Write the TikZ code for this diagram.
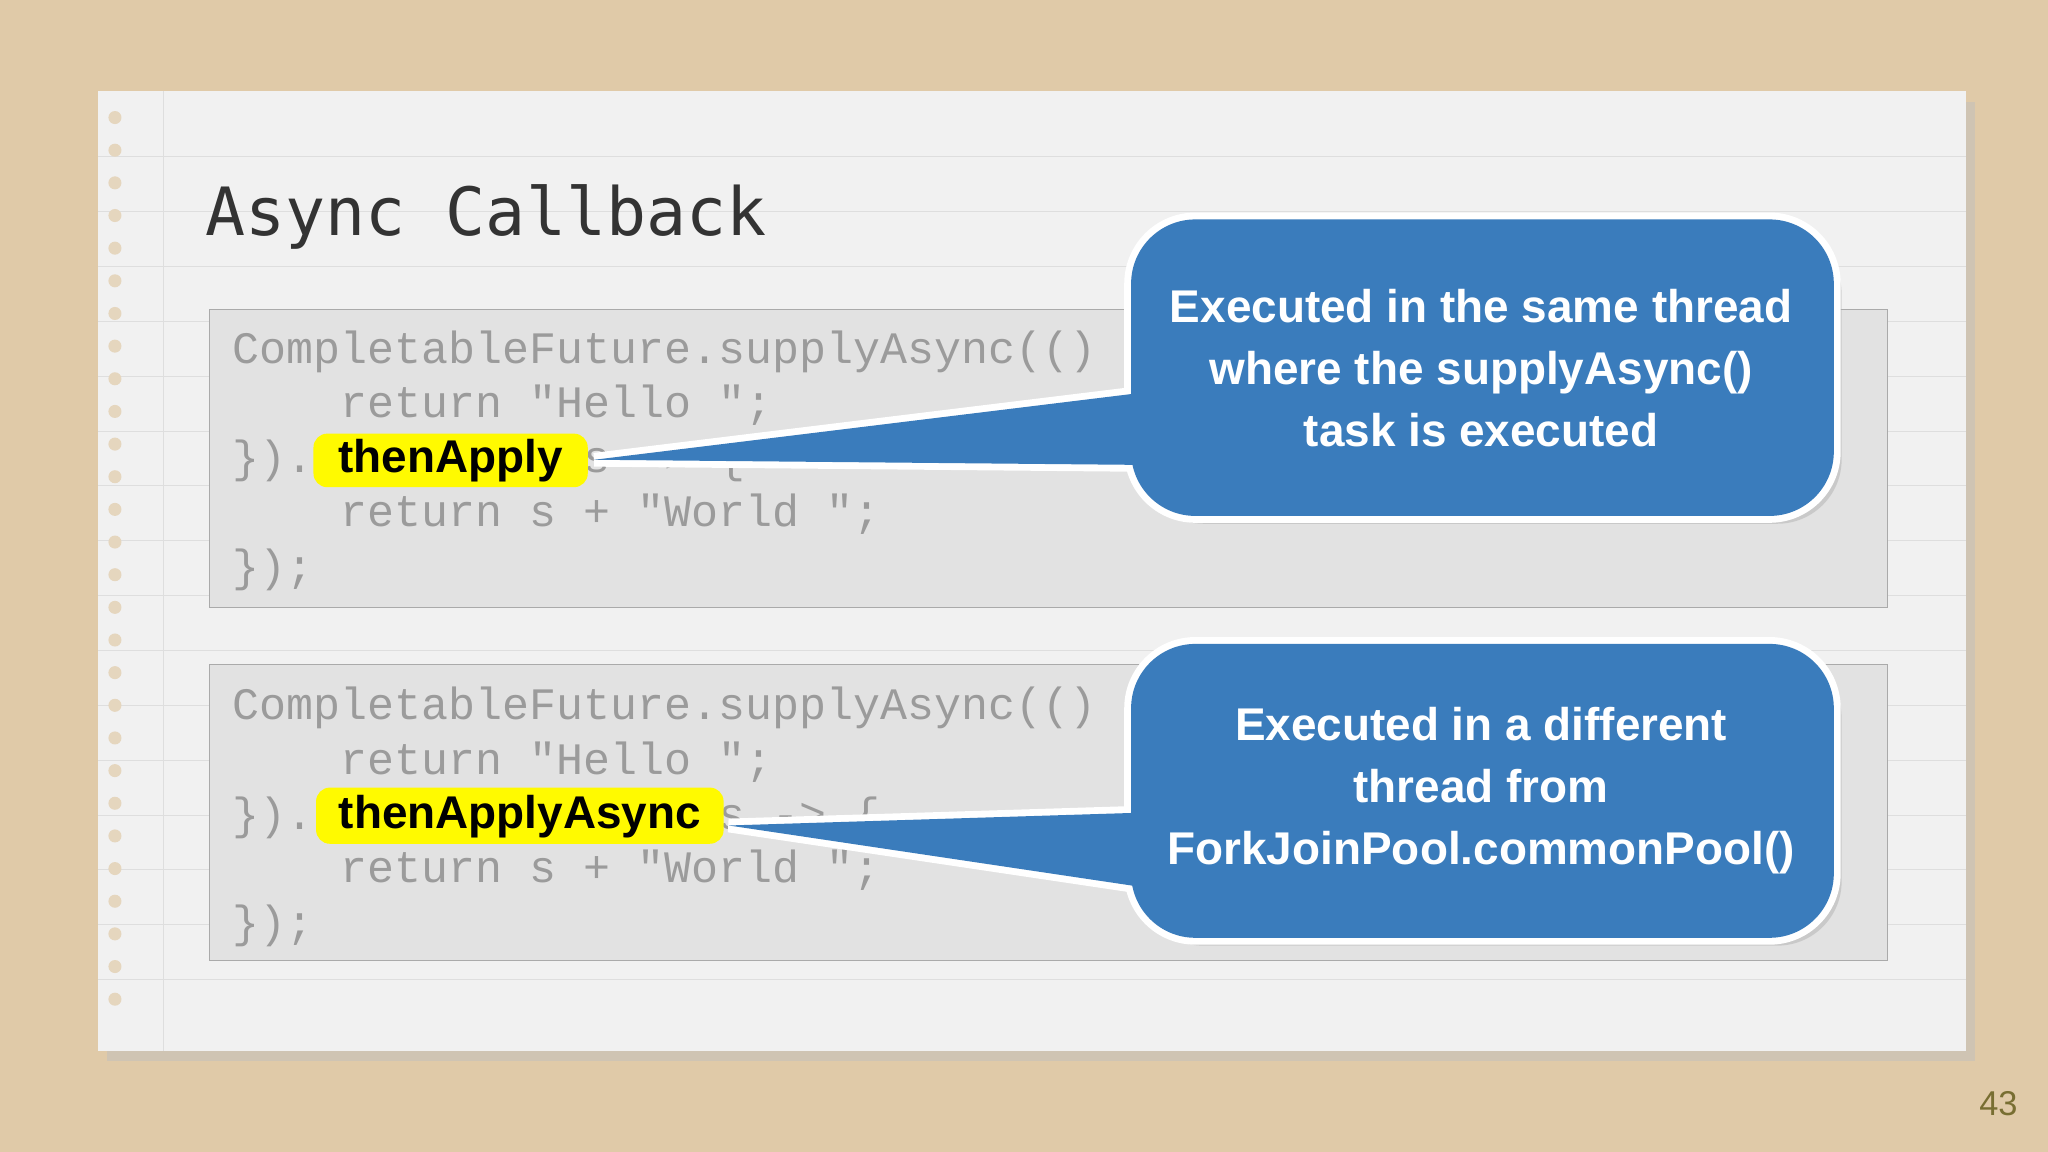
\documentclass[tikz,border=0pt]{standalone}
\usepackage{fontspec}
\setmainfont{Liberation Sans}
\newfontfamily\codefont{Liberation Mono}
\newfontfamily\titlefont{DejaVu Sans Mono}
\definecolor{wood}{RGB}{224,202,168}
\definecolor{paper}{RGB}{241,241,241}
\definecolor{rule}{RGB}{222,222,222}
\definecolor{codebg}{RGB}{226,226,226}
\definecolor{codeborder}{RGB}{170,170,170}
\definecolor{codetxt}{RGB}{155,155,155}
\definecolor{callblue}{RGB}{58,124,188}
\definecolor{hl}{RGB}{255,250,0}
\definecolor{pnum}{RGB}{120,110,50}
\tikzset{
 code/.style={anchor=base west,inner sep=0,font=\codefont\fontsize{19.6}{20}\selectfont,text=codetxt},
 hlbox/.style={fill=hl,rounded corners=6pt},
 hltext/.style={font=\bfseries\fontsize{20}{20}\selectfont,text=black},
 calltext/.style={font=\bfseries\fontsize{20}{27}\selectfont,text=white,align=center},
 outl/.style={draw=white,line width=6pt},
 cbox/.style={draw=codeborder,fill=codebg},
}
\begin{document}
\begin{tikzpicture}[x=0.02cm,y=-0.02cm]
\fill[wood] (0,0) rectangle (1568,882);
\useasboundingbox (0,0) rectangle (1568,882);
% paper
\fill[black!25,opacity=0.5] (82,78) rectangle (1512,812);
\fill[paper] (75,70) rectangle (1505,805);
\foreach \y in {120,162,204,246,288,330,372,414,456,498,540,582,624,666,708,750}
  \draw[rule] (75,\y) -- (1505,\y);
\draw[rule] (125,70) -- (125,805);
\foreach \y in {90,115,...,780} \fill[wood!70!paper] (88,\y) circle (5);
% title
\node[anchor=base west,inner sep=0,font=\titlefont\fontsize{29}{29}\selectfont,text=black!80] (title) at (157,180) {Async Callback};
% code boxes
\path[cbox] (160,237) rectangle (1445,465);
\path[cbox] (160,509) rectangle (1445,735);
\node[code] (a1) at (178,278) {CompletableFuture.supplyAsync(() -> \{};
\node[code] (a2) at (178,320) {\ \ \ \ return "Hello ";};
\node[code] (a3) at (178,362) {\}).thenApply(s -> \{};
\node[code] (a4) at (178,403) {\ \ \ \ return s + "World ";};
\node[code] (a5) at (178,445) {\});};
\node[code] (b1) at (178,551) {CompletableFuture.supplyAsync(() -> \{};
\node[code] (b2) at (178,593) {\ \ \ \ return "Hello ";};
\node[code] (b3) at (178,635) {\}).thenApplyAsync(s -> \{};
\node[code] (b4) at (178,676) {\ \ \ \ return s + "World ";};
\node[code] (b5) at (178,718) {\});};
% highlights
\path[hlbox] (240,332) rectangle (450,373);
\node[hltext] (h1) at (345,353) {thenApply};
\path[hlbox] (242,603) rectangle (554,646);
\node[hltext] (h2) at (398,625) {thenApplyAsync};
% callouts
\coordinate (t1) at (455,352);
\coordinate (t2) at (558,632);
\fill[black!30,opacity=0.5,rounded corners=28] (872,176) rectangle (1410,401);
\fill[black!30,opacity=0.5,rounded corners=28] (872,501) rectangle (1410,724);
\path[outl,rounded corners=28] (866,168) rectangle (1404,395);
\path[outl] (880,300) -- (t1) -- (880,356) -- cycle;
\path[outl,rounded corners=28] (866,493) rectangle (1404,718);
\path[outl] (880,622) -- (t2) -- (880,680) -- cycle;
\fill[callblue,rounded corners=28] (866,168) rectangle (1404,395);
\fill[callblue] (880,300) -- (t1) -- (880,356) -- cycle;
\fill[callblue,rounded corners=28] (866,493) rectangle (1404,718);
\fill[callblue] (880,622) -- (t2) -- (880,680) -- cycle;
\node[calltext] (c1) at (1134,282) {Executed in the same thread\\where the supplyAsync()\\task is executed};
\node[calltext] (c2) at (1134,605) {Executed in a different\\thread from\\ForkJoinPool.commonPool()};
\node[font=\fontsize{15}{15}\selectfont,text=pnum] (pn) at (1530,845) {43};
\end{tikzpicture}
\end{document}
